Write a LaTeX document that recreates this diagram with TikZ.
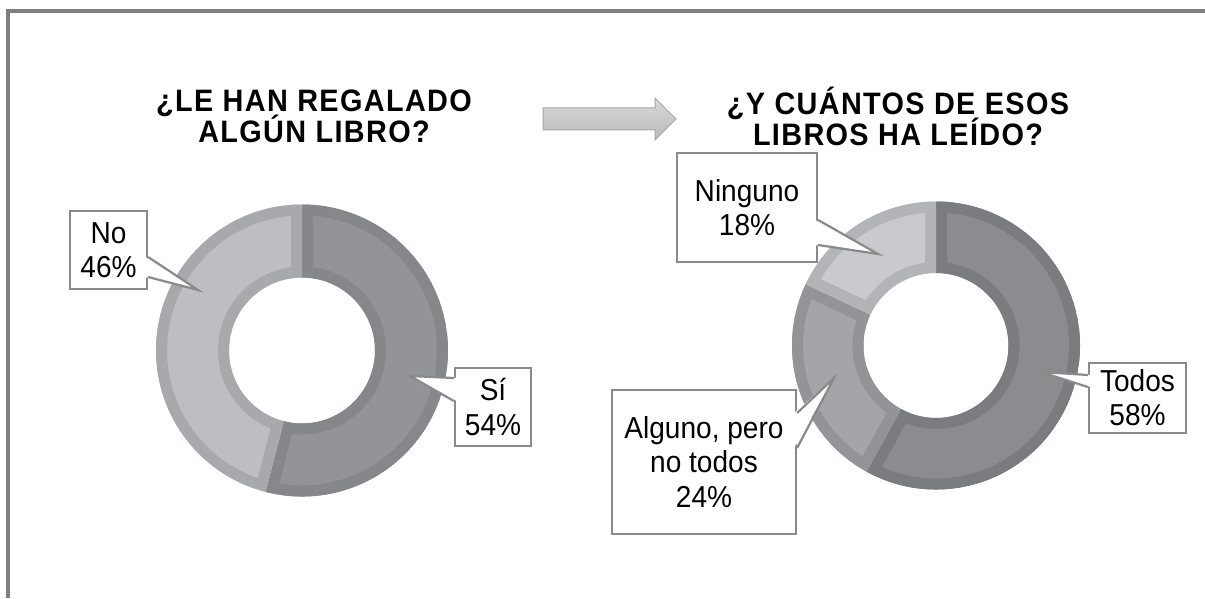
\documentclass[tikz,border=0pt]{standalone}
\usepackage{fontspec}
\setmainfont{Liberation Sans}
\newfontfamily\lblfam[FakeStretch=0.926]{Liberation Sans}
\newfontfamily\ttlfam[FakeStretch=0.93, LetterSpace=4.4]{Liberation Sans}
\usepackage{xcolor}
\usetikzlibrary{calc}

\definecolor{framegray}{HTML}{7F7F7F}
\definecolor{lblgray}{HTML}{8A8A8A}
\definecolor{noFill}{HTML}{BDBEC1}
\definecolor{noEdge}{HTML}{A8A9AC}
\definecolor{siFill}{HTML}{939497}
\definecolor{siEdge}{HTML}{86878A}
\definecolor{todosFill}{HTML}{8B8C8F}
\definecolor{todosEdge}{HTML}{7B7C7F}
\definecolor{algunoFill}{HTML}{A4A5A8}
\definecolor{algunoEdge}{HTML}{939497}
\definecolor{ningunoFill}{HTML}{C9CACD}
\definecolor{ningunoEdge}{HTML}{B3B4B7}

\newcommand\lblfont{\lblfam\fontsize{30.3}{34.3}\selectfont\lineskiplimit=-50pt\relax}
\newcommand\ttlfont{\ttlfam\bfseries\fontsize{31}{30.5}\selectfont\lineskiplimit=-50pt\relax}

\begin{document}
\begin{tikzpicture}[x=1pt, y=1pt,
            lbl/.style={draw=lblgray, line width=2.2, fill=white, align=center, inner sep=0pt, font=\lblfont},
            ptr/.style={draw=lblgray, line width=2.2, line join=miter},
            ttl/.style={align=center, font=\ttlfont}]
        \useasboundingbox (0,0) rectangle (1205,598);

        % frame
        \draw[framegray, line width=4] (8,0) -- (8,587) -- (1205,587);

        % titles and arrow
        \node[ttl] (ttlA) at (314,481.5) {¿LE HAN REGALADO\\ALGÚN LIBRO?};
        \node[ttl] (ttlB) at (898,481.5) {¿Y CUÁNTOS DE ESOS\\LIBROS HA LEÍDO?};
        \draw[draw=black!35, top color=black!15, bottom color=black!27, line width=1]
            (543,490) -- (655,490) -- (655,500) -- (676,479) -- (655,458) -- (655,468) -- (543,468) -- cycle;

        % left ring
        \begin{scope}[shift={(302,247.5)}]
            \foreach \a/\b/\fc/\ec in {-104.4/90/siFill/siEdge, 90/255.6/noFill/noEdge}{
                \begin{scope}
                    \clip (\a:146) arc[start angle=\a, end angle=\b, radius=146] -- (\b:73) arc[start angle=\b, end angle=\a, radius=73] -- cycle;
                    \filldraw[fill=\fc, draw=\ec, line width=22] (\a:146) arc[start angle=\a, end angle=\b, radius=146] -- (\b:73) arc[start angle=\b, end angle=\a, radius=73] -- cycle;
                \end{scope}
            }
        \end{scope}

        % right ring
        \begin{scope}[shift={(936,252.5)}]
            \foreach \a/\b/\fc/\ec in {-118.8/90/todosFill/todosEdge, 154.8/241.2/algunoFill/algunoEdge, 90/154.8/ningunoFill/ningunoEdge}{
                \begin{scope}
                    \clip (\a:144) arc[start angle=\a, end angle=\b, radius=144] -- (\b:72.5) arc[start angle=\b, end angle=\a, radius=72.5] -- cycle;
                    \filldraw[fill=\fc, draw=\ec, line width=22] (\a:144) arc[start angle=\a, end angle=\b, radius=144] -- (\b:72.5) arc[start angle=\b, end angle=\a, radius=72.5] -- cycle;
                \end{scope}
            }
        \end{scope}

        % labels
        \node[lbl, minimum width=77, minimum height=78] (no) at (108.5,348) {No\\46\%};
        \node[lbl, minimum width=76, minimum height=78] (si) at (493,191) {Sí\\54\%};
        \node[lbl, minimum width=140, minimum height=109] (ninguno) at (747,390.5) {Ninguno\\18\%};
        \node[lbl, minimum width=97, minimum height=70] (todos) at (1137.5,200) {Todos\\58\%};
        \node[lbl, minimum width=184, minimum height=144] (alguno) at (704,136) {Alguno, pero\\no todos\\24\%};

        \coordinate (tNo) at (198,308);
        \coordinate (tSi) at (410,222);
        \coordinate (tNinguno) at (878,344);
        \coordinate (tTodos) at (1041,226);
        \coordinate (tAlguno) at (834,220);

        \fill[white] ([xshift=-3,yshift=-7]no.east) -- (tNo) -- ([xshift=-3,yshift=-27]no.east) -- cycle;
        \draw[ptr] ([yshift=-7]no.east) -- (tNo) -- ([yshift=-27]no.east);

        \fill[white] ([xshift=3,yshift=29]si.west) -- (tSi) -- ([xshift=3,yshift=6]si.west) -- cycle;
        \draw[ptr] ([yshift=29]si.west) -- (tSi) -- ([yshift=6]si.west);

        \fill[white] ([xshift=-3,yshift=-12.5]ninguno.east) -- (tNinguno) -- ([xshift=-3,yshift=-37.5]ninguno.east) -- cycle;
        \draw[ptr] ([yshift=-12.5]ninguno.east) -- (tNinguno) -- ([yshift=-37.5]ninguno.east);

        \fill[white] ([xshift=3,yshift=23]todos.west) -- (tTodos) -- ([xshift=3,yshift=11]todos.west) -- cycle;
        \draw[ptr] ([yshift=23]todos.west) -- (tTodos) -- ([yshift=11]todos.west);

        \fill[white] ([xshift=-3,yshift=49]alguno.east) -- (tAlguno) -- ([xshift=-3,yshift=14]alguno.east) -- cycle;
        \draw[ptr] ([yshift=49]alguno.east) -- (tAlguno) -- ([yshift=14]alguno.east);
    \end{tikzpicture}
\end{document}
